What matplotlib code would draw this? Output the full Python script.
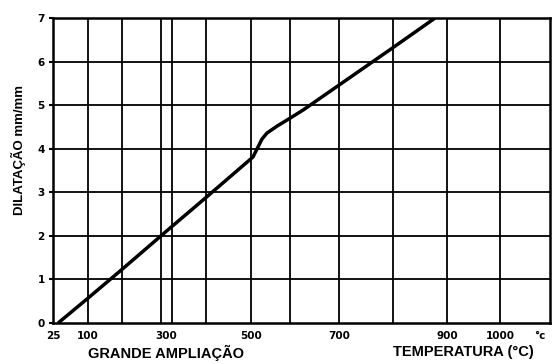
import numpy as np
import matplotlib
matplotlib.use('Agg')
import matplotlib.pyplot as plt

# curve: temperature (C) vs dilatation (mm/mm)
temp = [36, 100, 200, 300, 400, 500, 505, 518, 528, 541, 567, 600, 627, 700, 800, 878]
dilat = [0.0, 0.57, 1.23, 2.10, 2.88, 3.77, 3.81, 4.04, 4.22, 4.36, 4.52, 4.70,
         4.89, 5.46, 6.32, 7.0]

tick_temps = [25, 100, 300, 500, 700, 900, 1000]
tick_labels = ['25', '100', '300', '500', '700', '900', '1000']
grid_temps = [100, 200, 289, 315, 400, 500, 600, 700, 800, 900, 1000]
y_ticks = [0, 1, 2, 3, 4, 5, 6, 7]

# the temperature axis of the original is drawn by hand and is not linear
scale_temps = [25, 100, 200, 300, 400, 500, 600, 700, 800, 900, 1000, 1100]
scale_pos = [0, 0.0704, 0.1388, 0.2274, 0.3078, 0.3984, 0.4769, 0.5755,
             0.6841, 0.7928, 0.8994, 1.0]


def fwd(t):
    return np.interp(t, scale_temps, scale_pos)


def inv(u):
    return np.interp(u, scale_pos, scale_temps)


plt.rcParams['font.family'] = ['Liberation Sans', 'DejaVu Sans']
plt.rcParams['font.weight'] = 'bold'

fig = plt.figure(figsize=(5.52, 3.64), dpi=100)
ax = fig.add_axes([0.096, 0.1126, 0.9004, 0.838])
ax.set_xscale('function', functions=(fwd, inv))
ax.set_xlim(25, 1100)
ax.set_ylim(0, 7)

for t in grid_temps:
    ax.axvline(t, color='black', lw=1.3, zorder=1)
for v in y_ticks[1:-1]:
    ax.axhline(v, color='black', lw=1.3, zorder=1)

ax.plot(temp, dilat, color='black', lw=2.5, solid_capstyle='butt', zorder=3)

ax.set_xticks(tick_temps)
ax.set_xticklabels(tick_labels)
ax.xaxis.set_minor_locator(matplotlib.ticker.NullLocator())
ax.set_yticks(y_ticks)
ax.tick_params(axis='x', which='both', length=0, pad=6)
ax.tick_params(axis='y', length=3, width=1.5, pad=3, direction='out')
for lab in ax.get_xticklabels() + ax.get_yticklabels():
    lab.set_fontweight('bold')
    lab.set_fontfamily('DejaVu Sans')
    lab.set_fontsize(7.5)
for sp in ax.spines.values():
    sp.set_linewidth(1.8)

ax.annotate('°c', xy=(1000, 0), xycoords=('data', 'axes fraction'),
            xytext=(29, -6), textcoords='offset points',
            ha='center', va='top', fontsize=7.5, fontweight='bold',
            family='DejaVu Sans')

fig.text(0.301, 0.030, 'GRANDE AMPLIAÇÃO', ha='center', va='center',
         fontsize=10.5, fontweight='bold')
fig.text(0.839, 0.032, 'TEMPERATURA (°C)', ha='center', va='center',
         fontsize=10.5, fontweight='bold')
fig.text(0.033, 0.588, 'DILATAÇÃO mm/mm', rotation=90, ha='center', va='center',
         fontsize=9.5, fontweight='bold')

fig.savefig('out.png', dpi=100)
